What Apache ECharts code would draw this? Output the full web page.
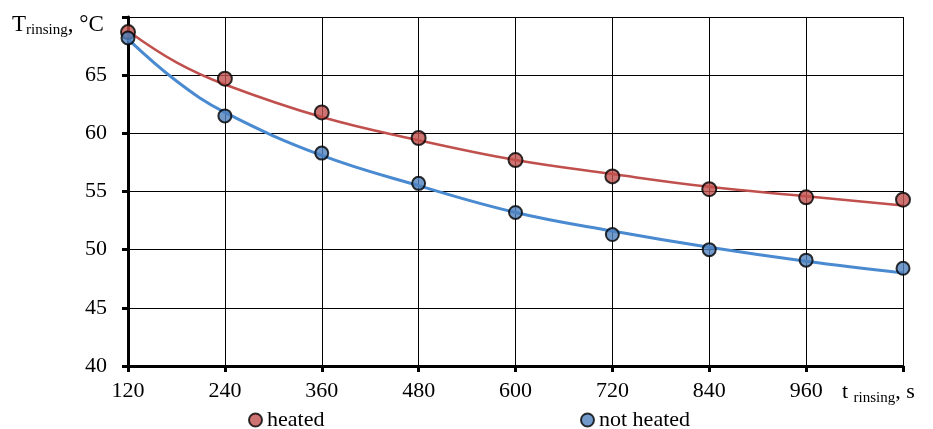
<!DOCTYPE html>
<html><head><meta charset="utf-8">
<script src="https://cdn.jsdelivr.net/npm/echarts@6/dist/echarts.min.js"></script>
<style>html,body{margin:0;padding:0;background:#fff}#c{width:933px;height:429px}</style>
</head><body><div id="c"></div>
<script>
// measured points
const times = [120, 240, 360, 480, 600, 720, 840, 960, 1080];
const heated = [68.7, 64.7, 61.8, 59.6, 57.7, 56.3, 55.2, 54.5, 54.3];
const notHeated = [68.2, 61.5, 58.3, 55.7, 53.2, 51.3, 50.0, 49.1, 48.4];
// trend curves
const trendT = [120, 180, 240, 360, 480, 600, 720, 840, 960, 1080];
const heatedTrend = [68.8, 66.1, 64.2, 61.4, 59.4, 57.7, 56.5, 55.4, 54.6, 53.8];
const notHeatedTrend = [68.1, 64.5, 61.8, 58.1, 55.5, 53.2, 51.6, 50.2, 49.0, 48.0];
const yTicks = [40, 45, 50, 55, 60, 65];

const pairs = (xs, ys) => xs.map((x, i) => [x, ys[i]]);
const font = '"Liberation Serif", "Times New Roman", serif';
const RED = '#c0504d', BLUE = '#4f81bd';

const chart = echarts.init(document.getElementById('c'));
chart.setOption({
  animation: false,
  grid: {left: 128, right: 30, top: 17, bottom: 63},
  xAxis: {
    type: 'value', min: 120, max: 1080, interval: 120,
    axisLine: {show: true, lineStyle: {color: '#000', width: 3}},
    axisTick: {show: true, length: 6, lineStyle: {color: '#000', width: 3}},
    axisLabel: {color: '#000', fontFamily: font, fontSize: 22, margin: 14,
      formatter: v => v === 1080 ? '' : String(v)},
    splitLine: {show: true, lineStyle: {color: '#000', width: 1}}
  },
  yAxis: {
    type: 'value', min: 40, max: 70, interval: 5,
    axisLine: {show: true, lineStyle: {color: '#000', width: 3}},
    axisTick: {show: true, length: 6, lineStyle: {color: '#000', width: 3}},
    axisLabel: {color: '#000', fontFamily: font, fontSize: 22, margin: 21,
      formatter: v => yTicks.includes(v) ? String(v) : ''},
    splitLine: {show: true, lineStyle: {color: '#000', width: 1}}
  },
  legend: [
    {left: 246, top: 407, padding: [2, 2, 2, 2], itemWidth: 13, itemHeight: 13, icon: 'circle',
     data: ['heated'], textStyle: {color: '#000', fontFamily: font, fontSize: 22}},
    {left: 578, top: 407, padding: [2, 2, 2, 2], itemWidth: 13, itemHeight: 13, icon: 'circle',
     data: ['not heated'], textStyle: {color: '#000', fontFamily: font, fontSize: 22}}
  ],
  graphic: [
    {type: 'text', left: 12, top: 13, style: {
      text: '{a|T}{b|rinsing}{a|, °C}',
      rich: {a: {fontFamily: font, fontSize: 23, fill: '#000'},
             b: {fontFamily: font, fontSize: 15, fill: '#000', padding: [12,0,0,0]}}
    }},
    {type: 'text', left: 842, top: 381, style: {
      text: '{a|t }{b|rinsing}{a|, s}',
      rich: {a: {fontFamily: font, fontSize: 22, fill: '#000'},
             b: {fontFamily: font, fontSize: 15, fill: '#000', padding: [12,0,0,0]}}
    }}
  ],
  series: [
    {name: 'heated trend', type: 'line', data: pairs(trendT, heatedTrend), smooth: 0.4,
     showSymbol: false, lineStyle: {color: RED, width: 2.5}, z: 2},
    {name: 'not heated trend', type: 'line', data: pairs(trendT, notHeatedTrend), smooth: 0.4,
     showSymbol: false, lineStyle: {color: '#4a8ad0', width: 3}, z: 2},
    {name: 'heated', type: 'scatter', data: pairs(times, heated), symbolSize: 14,
     itemStyle: {color: RED, borderColor: '#000', borderWidth: 2}, z: 5},
    {name: 'not heated', type: 'scatter', data: pairs(times, notHeated), symbolSize: 13,
     itemStyle: {color: BLUE, borderColor: '#000', borderWidth: 2}, z: 5}
  ]
});
</script></body></html>
